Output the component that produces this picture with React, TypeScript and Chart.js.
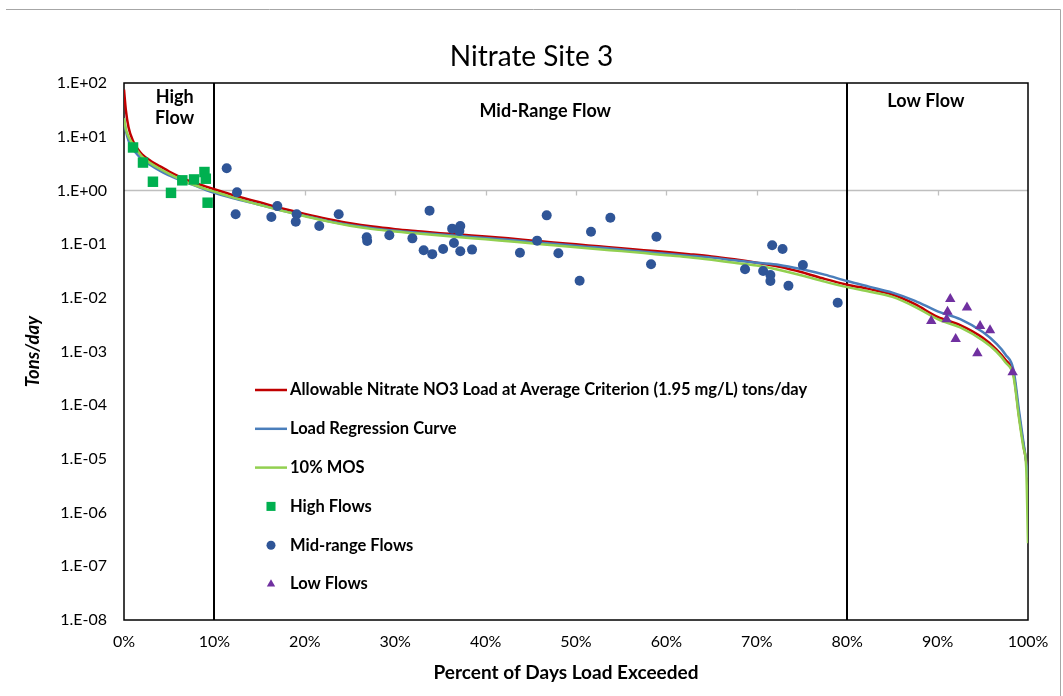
import React, { useEffect, useRef } from 'react';
import { Chart, registerables } from 'chart.js';

Chart.register(...registerables);

const FONT = 'Lato, "Open Sans", sans-serif';

// ---- Data ----
const chartTitle = 'Nitrate Site 3';
const xAxisTitle = 'Percent of Days Load Exceeded';
const yAxisTitle = 'Tons/day';

const curvePct = [0, 0.2, 0.5, 1, 1.5, 2, 3, 4, 5, 6, 7, 8, 9, 10, 12, 15, 17.5, 20, 22.5, 25, 27.5, 30, 32.5, 35, 37.5, 40, 42.5, 45, 47.5, 50, 52.5, 55, 57.5, 60, 62.5, 65, 67.5, 70, 72.5, 75, 77.5, 80, 82.5, 85, 87.5, 90, 92.5, 95, 96.5, 97.5, 98.4, 99, 99.5, 99.8, 100];

const allowableLoad = [75, 32, 15, 8.3, 6.0, 4.7, 3.5, 2.8, 2.25, 1.85, 1.55, 1.35, 1.19, 1.05, 0.82, 0.6, 0.46, 0.365, 0.295, 0.245, 0.212, 0.19, 0.174, 0.16, 0.149, 0.139, 0.128, 0.117, 0.107, 0.099, 0.091, 0.084, 0.077, 0.071, 0.065, 0.059, 0.052, 0.045, 0.038, 0.03, 0.0225, 0.0175, 0.0145, 0.0115, 0.0076, 0.0044, 0.0031, 0.0018, 0.0011, 0.0007, 0.00038, 0.000065, 0.000018, 0.000009, 0.0000045];

const regressionLoad = [22, 13, 8.5, 5.8, 4.6, 3.9, 2.9, 2.3, 1.9, 1.6, 1.38, 1.2, 1.03, 0.9, 0.72, 0.54, 0.42, 0.335, 0.27, 0.227, 0.198, 0.177, 0.163, 0.151, 0.14, 0.13, 0.12, 0.11, 0.101, 0.093, 0.086, 0.079, 0.072, 0.066, 0.061, 0.056, 0.05, 0.045, 0.041, 0.034, 0.027, 0.0205, 0.016, 0.0125, 0.0088, 0.0056, 0.004, 0.0023, 0.0014, 0.00088, 0.00045, 0.00008, 0.00002, 0.000009, 0.0000045];

const mosLoad = [22, 14, 10, 7.2, 5.4, 4.25, 3.15, 2.5, 2.03, 1.67, 1.4, 1.22, 1.07, 0.95, 0.74, 0.54, 0.415, 0.33, 0.265, 0.22, 0.19, 0.171, 0.157, 0.144, 0.133, 0.123, 0.113, 0.104, 0.095, 0.087, 0.08, 0.074, 0.068, 0.062, 0.057, 0.051, 0.045, 0.04, 0.033, 0.026, 0.02, 0.0158, 0.013, 0.0104, 0.0068, 0.004, 0.0028, 0.0016, 0.001, 0.00063, 0.00034, 0.000058, 0.000016, 0.000007, 0.00000027];

const highPct = [1.0, 2.1, 3.2, 5.2, 6.45, 7.75, 8.9, 9.05, 9.25];
const highLoad = [6.3, 3.3, 1.45, 0.9, 1.54, 1.6, 2.2, 1.65, 0.59];

const midPct = [11.36, 12.5, 12.35, 16.96, 16.3, 19.1, 19.0, 21.6, 23.75, 26.85, 26.9, 29.35, 31.9, 33.8, 33.15, 34.1, 35.3, 36.3, 37.2, 37.1, 36.5, 37.2, 38.5, 43.8, 45.7, 46.76, 48.05, 50.4, 51.66, 53.8, 58.3, 58.9, 68.7, 70.7, 71.7, 71.5, 71.5, 72.85, 73.5, 75.1, 78.95];
const midLoad = [2.58, 0.92, 0.36, 0.51, 0.32, 0.36, 0.26, 0.217, 0.36, 0.134, 0.114, 0.146, 0.128, 0.42, 0.077, 0.065, 0.081, 0.194, 0.217, 0.175, 0.105, 0.0735, 0.079, 0.069, 0.116, 0.343, 0.0675, 0.0208, 0.17, 0.31, 0.042, 0.137, 0.034, 0.0316, 0.0955, 0.0266, 0.0206, 0.081, 0.0168, 0.0408, 0.0081];

const lowPct = [89.3, 91.0, 91.1, 91.4, 92.0, 93.25, 94.4, 94.7, 95.8, 98.3];
const lowLoad = [0.0037, 0.004, 0.0055, 0.0095, 0.0017, 0.0066, 0.00093, 0.003, 0.0025, 0.00041];

const yTickValues = [1e-8, 1e-7, 1e-6, 1e-5, 1e-4, 1e-3, 1e-2, 1e-1, 1, 10, 100];
const xTickValues = [0, 10, 20, 30, 40, 50, 60, 70, 80, 90, 100];

const flowZoneBounds = [10, 80];
const zoneLabels = [
  { lines: ['High', 'Flow'], pct: 5.6, top: 14 },
  { lines: ['Mid-Range Flow'], pct: 46.6, top: 28 },
  { lines: ['Low Flow'], pct: 88.7, top: 18 },
];

const seriesNames = [
  'Allowable Nitrate NO3 Load at Average Criterion (1.95 mg/L) tons/day',
  'Load Regression Curve',
  '10% MOS',
  'High Flows',
  'Mid-range Flows',
  'Low Flows',
];

const zip = (xs: number[], ys: number[]) => xs.map((x, i) => ({ x, y: ys[i] }));

function fmtExp(v: number) {
  const e = Math.round(Math.log10(v));
  const a = Math.abs(e);
  return '1.E' + (e >= 0 ? '+' : '-') + (a < 10 ? '0' + a : String(a));
}

function drawMarker(ctx: CanvasRenderingContext2D, style: string, x: number, y: number, r: number, color: string) {
  ctx.save();
  ctx.fillStyle = color;
  ctx.beginPath();
  if (style === 'rect') {
    const s = r * Math.SQRT1_2;
    ctx.rect(x - s, y - s, 2 * s, 2 * s);
  } else if (style === 'triangle') {
    ctx.moveTo(x, y - r);
    ctx.lineTo(x + Math.sin(Math.PI / 3) * r, y + r / 2);
    ctx.lineTo(x - Math.sin(Math.PI / 3) * r, y + r / 2);
    ctx.closePath();
  } else {
    ctx.arc(x, y, r, 0, Math.PI * 2);
  }
  ctx.fill();
  ctx.restore();
}

const decorPlugin = {
  id: 'decor',
  beforeDraw(chart: any) {
    const ctx = chart.ctx as CanvasRenderingContext2D;
    const a = chart.chartArea;
    ctx.save();
    ctx.fillStyle = '#ffffff';
    ctx.fillRect(0, 0, chart.width, chart.height);
    ctx.strokeStyle = '#a6a6a6';
    ctx.lineWidth = 1;
    ctx.beginPath();
    ctx.moveTo(6, 9.5);
    ctx.lineTo(1060.5, 9.5);
    ctx.lineTo(1060.5, chart.height);
    ctx.stroke();
    // chart title
    ctx.fillStyle = '#000000';
    ctx.textAlign = 'center';
    ctx.textBaseline = 'middle';
    ctx.font = `28px ${FONT}`;
    ctx.fillText(chartTitle, chart.width / 2, a.top - 26);
    // x axis title
    ctx.font = `bold 19px ${FONT}`;
    ctx.fillText(xAxisTitle, (a.left + a.right) / 2 - 10, a.bottom + 53);
    ctx.restore();
  },
  beforeDatasetsDraw(chart: any) {
    const ctx = chart.ctx as CanvasRenderingContext2D;
    const a = chart.chartArea;
    const xs = chart.scales.x;
    const ys = chart.scales.y;
    ctx.save();
    // horizontal axis crossing at 1.0
    const y1 = Math.round(ys.getPixelForValue(1)) + 0.5;
    ctx.strokeStyle = '#bfbfbf';
    ctx.lineWidth = 1.3;
    ctx.beginPath();
    ctx.moveTo(a.left, y1);
    ctx.lineTo(a.right, y1);
    for (const t of xTickValues) {
      if (t === 0 || t === 100) continue;
      const px = Math.round(xs.getPixelForValue(t)) + 0.5;
      ctx.moveTo(px, y1);
      ctx.lineTo(px, y1 + 5);
    }
    ctx.stroke();
    // zone boundaries
    ctx.strokeStyle = '#000000';
    ctx.lineWidth = 2;
    ctx.beginPath();
    for (const b of flowZoneBounds) {
      const px = Math.round(xs.getPixelForValue(b));
      ctx.moveTo(px, a.top);
      ctx.lineTo(px, a.bottom);
    }
    ctx.stroke();
    // plot box
    ctx.lineWidth = 1.5;
    ctx.strokeRect(a.left, a.top, a.right - a.left, a.bottom - a.top);
    // zone labels
    ctx.fillStyle = '#000000';
    ctx.font = `bold 18px ${FONT}`;
    ctx.textAlign = 'center';
    ctx.textBaseline = 'middle';
    for (const z of zoneLabels) {
      const px = xs.getPixelForValue(z.pct);
      z.lines.forEach((ln, i) => {
        ctx.fillText(ln, px, a.top + z.top + i * 21);
      });
    }
    ctx.restore();
  },
  afterDraw(chart: any) {
    const ctx = chart.ctx as CanvasRenderingContext2D;
    const a = chart.chartArea;
    const x0 = a.left + 131;
    const y0 = a.top + 307;
    const step = 38.8;
    ctx.save();
    ctx.font = `bold 16.5px ${FONT}`;
    ctx.textAlign = 'left';
    ctx.textBaseline = 'middle';
    chart.data.datasets.forEach((ds: any, i: number) => {
      const yc = y0 + i * step;
      if (ds.type === 'line' && ds.showLine !== false) {
        ctx.strokeStyle = ds.borderColor;
        ctx.lineWidth = 2.5;
        ctx.beginPath();
        ctx.moveTo(x0, yc);
        ctx.lineTo(x0 + 32, yc);
        ctx.stroke();
      } else {
        drawMarker(ctx, ds.pointStyle, x0 + 16, yc, ds.legendRadius, ds.backgroundColor);
      }
      ctx.fillStyle = '#000000';
      ctx.fillText(ds.label, x0 + 35, yc);
    });
    ctx.restore();
  },
};

export default function App() {
  const ref = useRef<HTMLCanvasElement | null>(null);

  useEffect(() => {
    document.body.style.margin = '0';
    const canvas = ref.current;
    if (!canvas) return;
    const chart = new Chart(canvas, {
      type: 'scatter',
      data: {
        datasets: [
          {
            type: 'line', label: seriesNames[0], data: zip(curvePct, allowableLoad),
            borderColor: '#C00000', backgroundColor: '#C00000', borderWidth: 2.5,
            pointRadius: 0, cubicInterpolationMode: 'monotone', order: 4,
          } as any,
          {
            type: 'line', label: seriesNames[1], data: zip(curvePct, regressionLoad),
            borderColor: '#4A7EBB', backgroundColor: '#4A7EBB', borderWidth: 2.5,
            pointRadius: 0, cubicInterpolationMode: 'monotone', order: 3,
          } as any,
          {
            type: 'line', label: seriesNames[2], data: zip(curvePct, mosLoad),
            borderColor: '#92D050', backgroundColor: '#92D050', borderWidth: 2.5,
            pointRadius: 0, cubicInterpolationMode: 'monotone', order: 2,
          } as any,
          {
            type: 'scatter', label: seriesNames[3], data: zip(highPct, highLoad),
            pointStyle: 'rect', pointRadius: 7.4, backgroundColor: '#00B050', borderWidth: 0,
            legendRadius: 6.4, order: 1,
          } as any,
          {
            type: 'scatter', label: seriesNames[4], data: zip(midPct, midLoad),
            pointStyle: 'circle', pointRadius: 5, backgroundColor: '#2F5597', borderWidth: 0,
            legendRadius: 4.5, order: 1,
          } as any,
          {
            type: 'scatter', label: seriesNames[5], data: zip(lowPct, lowLoad),
            pointStyle: 'triangle', pointRadius: 6, backgroundColor: '#7030A0', borderWidth: 0,
            legendRadius: 4.8, order: 1,
          } as any,
        ],
      },
      options: {
        responsive: false,
        animation: false,
        layout: { padding: { left: 19, right: 35, top: 83, bottom: 8 } },
        plugins: {
          legend: { display: false },
          tooltip: { enabled: false },
          title: { display: false },
        },
        scales: {
          x: {
            type: 'linear',
            min: 0,
            max: 100,
            afterBuildTicks: (scale: any) => {
              scale.ticks = xTickValues.map((v) => ({ value: v }));
            },
            afterFit: (scale: any) => { scale.height = 68; },
            grid: { display: false, drawTicks: false },
            border: { display: false },
            ticks: {
              padding: 12,
              color: '#000000',
              font: { family: FONT, size: 16 },
              maxRotation: 0,
              callback: (v: any) => v + '%',
            },
            title: { display: false },
          },
          y: {
            type: 'logarithmic',
            min: 1e-8,
            max: 100,
            afterBuildTicks: (scale: any) => {
              scale.ticks = yTickValues.map((v) => ({ value: v }));
            },
            afterFit: (scale: any) => { scale.width = 105; },
            grid: { display: false, drawTicks: false },
            border: { display: false },
            ticks: {
              padding: 17,
              color: '#000000',
              font: { family: FONT, size: 16 },
              autoSkip: false,
              callback: (v: any) => fmtExp(Number(v)),
            },
            title: {
              display: true,
              text: yAxisTitle,
              color: '#000000',
              font: { family: FONT, size: 18.5, weight: 'bold', style: 'italic' },
              padding: { top: 3, bottom: 4 },
            },
          },
        },
      },
      plugins: [decorPlugin],
    });
    return () => chart.destroy();
  }, []);

  return <canvas ref={ref} width={1063} height={696} style={{ display: 'block' }} />;
}
